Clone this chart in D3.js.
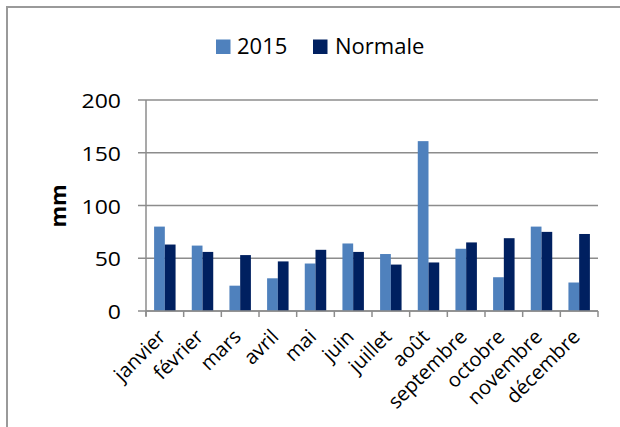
<!DOCTYPE html>
<html>
<head>
<meta charset="utf-8">
<script src="https://cdn.jsdelivr.net/npm/d3@7"></script>
<style>
  html, body { margin: 0; padding: 0; background: #fff; }
  svg { display: block; font-family: "Open Sans", sans-serif; }
</style>
</head>
<body>
<svg id="chart" width="620" height="427"></svg>
<script>
const months = ["janvier","février","mars","avril","mai","juin","juillet","août","septembre","octobre","novembre","décembre"];
const rain2015 = [80, 62, 24, 31, 45, 64, 54, 161, 59, 32, 80, 27];
const normale  = [63, 56, 53, 47, 58, 56, 44, 46, 65, 69, 75, 73];
const seriesNames = ["2015", "Normale"];
const seriesColors = ["#4F81BD", "#002060"];
const yTicks = [0, 50, 100, 150, 200];
const yTitle = "mm";

(function () {
const svg = d3.select("#chart");
const plotLeft = 146, plotRight = 598, plotTop = 100, plotBottom = 311;

// outer frame
svg.append("rect").attr("x", 7).attr("y", 7).attr("width", 640).attr("height", 440)
  .attr("fill", "none").attr("stroke", "#9a9a9a").attr("stroke-width", 2);

const y = d3.scaleLinear().domain([0, 200]).range([plotBottom, plotTop]);
const xCat = d3.scaleBand().domain(months).range([plotLeft, plotRight]).padding(0);
const xGroup = d3.scaleBand().domain(months).range([plotLeft, plotRight]).paddingInner(0.43).paddingOuter(0.215);
const xSub = d3.scaleBand().domain(seriesNames).range([0, xGroup.bandwidth()]);

const gridColor = "#8c8c8c";

// gridlines
svg.append("g").selectAll("line").data(yTicks).join("line")
  .attr("x1", plotLeft - 8).attr("x2", plotRight)
  .attr("y1", d => y(d)).attr("y2", d => y(d))
  .attr("stroke", gridColor).attr("stroke-width", 1.5);

// y axis line
svg.append("line").attr("x1", plotLeft).attr("x2", plotLeft).attr("y1", y(200)).attr("y2", y(0) + 5)
  .attr("stroke", gridColor).attr("stroke-width", 1.5);

// x ticks at category boundaries
const bounds = months.map(m => xCat(m)).concat([xCat(months[months.length - 1]) + xCat.step()]);
svg.append("g").selectAll("line").data(bounds).join("line")
  .attr("x1", d => d).attr("x2", d => d)
  .attr("y1", y(0)).attr("y2", y(0) + 6)
  .attr("stroke", gridColor).attr("stroke-width", 1.5);

// y tick labels
svg.append("g").selectAll("text").data(yTicks).join("text")
  .attr("transform", d => `translate(121,${y(d) + 8})scale(1.15,1)`)
  .attr("text-anchor", "end").attr("font-size", 20).attr("fill", "#000")
  .text(d => d);

// bars
const series = [rain2015, normale];
series.forEach((vals, si) => {
  svg.append("g").selectAll("rect").data(months).join("rect")
    .attr("x", m => xGroup(m) + xSub(seriesNames[si]))
    .attr("width", xSub.bandwidth())
    .attr("y", (m, i) => y(vals[i]))
    .attr("height", (m, i) => y(0) - y(vals[i]))
    .attr("fill", seriesColors[si]);
});

// baseline over bars
svg.append("line").attr("x1", plotLeft).attr("x2", plotRight).attr("y1", y(0)).attr("y2", y(0))
  .attr("stroke", gridColor).attr("stroke-width", 1.5);

// month labels
svg.append("g").selectAll("text").data(months).join("text")
  .attr("transform", m => `translate(${xCat(m) + xCat.step() / 2 + 2},${y(0) + 27})rotate(-45)`)
  .attr("text-anchor", "end").attr("font-size", 20).attr("fill", "#000")
  .text(m => m);

// y title
svg.append("text").attr("transform", "translate(66,206)rotate(-90)")
  .attr("text-anchor", "middle").attr("font-size", 22).attr("font-weight", "bold")
  .text(yTitle);

// legend
const legendItems = [{x: 216, tx: 237}, {x: 313, tx: 335}];
seriesNames.forEach((name, i) => {
  svg.append("rect").attr("x", legendItems[i].x).attr("y", 39.5).attr("width", 14.5).attr("height", 14.5)
    .attr("fill", seriesColors[i]);
  svg.append("text").attr("x", legendItems[i].tx).attr("y", 54).attr("font-size", 22).attr("fill", "#000")
    .text(name);
});
})();
</script>
</body>
</html>
